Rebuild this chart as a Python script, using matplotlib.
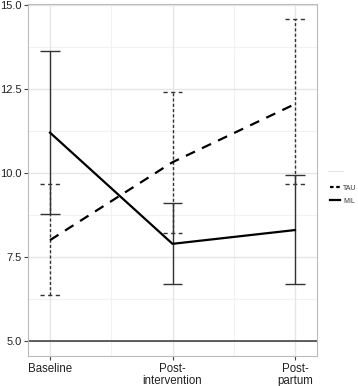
import matplotlib
matplotlib.use("Agg")
import matplotlib.pyplot as plt
from matplotlib.lines import Line2D
import numpy as np

plt.rcParams['font.family'] = ['Liberation Sans', 'DejaVu Sans']

timepoints = ["Baseline", "Post-\nintervention", "Post-\npartum"]
groups = ["TAU", "MIL"]
tau_mean = [8.0, 10.32, 12.05]
tau_low = [6.36, 8.21, 9.66]
tau_high = [9.67, 12.42, 14.57]
mil_mean = [11.2, 7.89, 8.30]
mil_low = [8.78, 6.68, 6.68]
mil_high = [13.63, 9.12, 9.94]
yticks = [5.0, 7.5, 10.0, 12.5, 15.0]

fig = plt.figure(figsize=(3.58, 3.86), dpi=100)
ax = fig.add_axes([0.0782, 0.0777, 0.8073, 0.9119])
x = np.arange(1, len(timepoints) + 1)
cap = 0.08
ecol = '#333333'

# grid
for v in [6.25, 8.75, 11.25, 13.75]:
    ax.axhline(v, color='#f2f2f2', lw=0.8, zorder=0)
for v in [1.5, 2.5]:
    ax.axvline(v, color='#f2f2f2', lw=0.8, zorder=0)
for v in yticks:
    ax.axhline(v, color='#e6e6e6', lw=1.0, zorder=0)
for v in x:
    ax.axvline(v, color='#e6e6e6', lw=1.0, zorder=0)

ax.axhline(5.0, color='#444444', lw=1.2, zorder=1)

# TAU error bars
ax.vlines(x, tau_low, tau_high, colors=ecol, lw=1.0, linestyles=(0, (2.2, 1.6)), zorder=2)
ax.hlines(tau_low, x - cap, x + cap, colors=ecol, lw=1.0, linestyles=(0, (3, 2.5)), zorder=2)
ax.hlines(tau_high, x - cap, x + cap, colors=ecol, lw=1.0, linestyles=(0, (3, 2.5)), zorder=2)
# MIL error bars
ax.vlines(x, mil_low, mil_high, colors=ecol, lw=1.0, zorder=2)
ax.hlines(mil_low, x - cap, x + cap, colors=ecol, lw=1.0, zorder=2)
ax.hlines(mil_high, x - cap, x + cap, colors=ecol, lw=1.0, zorder=2)

ax.plot(x, tau_mean, color='black', lw=1.6, linestyle=(0, (4.5, 3.5)), zorder=3)
ax.plot(x, mil_mean, color='black', lw=1.6, zorder=3)

ax.set_xlim(0.82, 3.18)
ax.set_ylim(4.55, 15.03)
ax.set_yticks(yticks)
ax.set_yticklabels([f"{v:.1f}" for v in yticks])
ax.set_xticks(x)
ax.set_xticklabels(timepoints, linespacing=1.0)
ax.tick_params(axis='x', length=3, width=0.8, color='#444444', labelsize=8.3,
               labelcolor='#222222', pad=2)
ax.tick_params(axis='y', length=3, width=0.8, color='#444444', labelsize=8.0,
               labelcolor='#222222', pad=1.5)
for s in ax.spines.values():
    s.set_color('#bbbbbb')
    s.set_linewidth(0.8)

# legend
fig.add_artist(Line2D([328/358, 343/358], [1-171/386, 1-171/386], color='#e6e6e6', lw=0.8))
handles = [Line2D([], [], color='black', lw=1.6, linestyle=(0, (1.6, 1.2))),
           Line2D([], [], color='black', lw=1.6)]
leg = fig.legend(handles, groups, loc='upper left', bbox_to_anchor=(325/358, 1-180/386),
                 frameon=False, fontsize=5, handlelength=1.4, handletextpad=0.5,
                 labelspacing=0.85, borderpad=0.2)
for t in leg.get_texts():
    t.set_color('#333333')

fig.savefig("out.png", dpi=100)
